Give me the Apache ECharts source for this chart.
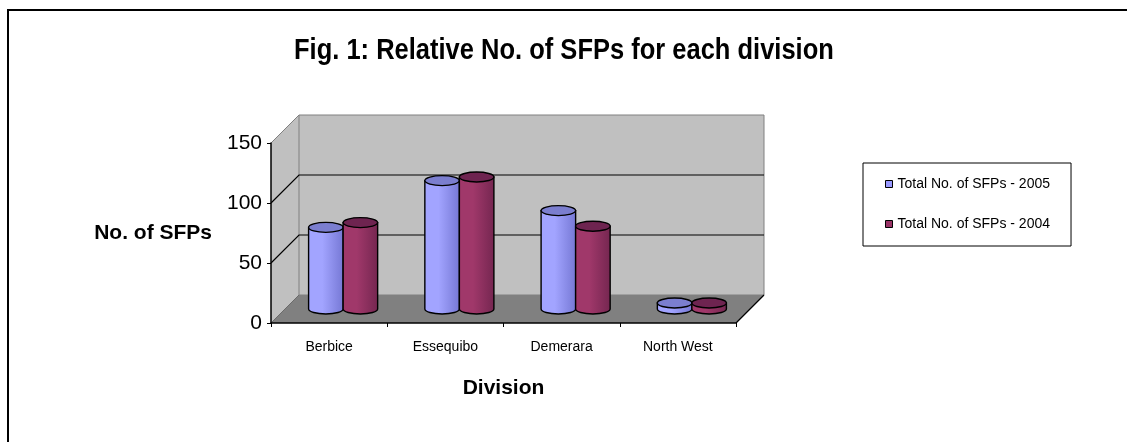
<!DOCTYPE html>
<html>
<head>
<meta charset="utf-8">
<title>Fig. 1</title>
<script src="https://cdn.jsdelivr.net/npm/echarts@6/dist/echarts.min.js"></script>
<style>
  html, body { margin: 0; padding: 0; background: #fff; }
  #main { width: 1127px; height: 442px; }
</style>
</head>
<body>
<div id="main"></div>
<script>
// data
const divisions = ['Berbice', 'Essequibo', 'Demerara', 'North West']
const sfp2005 = [68, 107, 82, 5]
const sfp2004 = [72, 110, 69, 5]
const seriesNames = ['Total No. of SFPs - 2005', 'Total No. of SFPs - 2004']
const yTicks = [0, 50, 100, 150]

const FONT = "'Liberation Sans', Arial, sans-serif"
// depth of the fake 3d box (back wall offset)
const DX = 28
const DY = -28

const chart = echarts.init(document.getElementById('main'))

// walls, floor and gridlines of the 3d box
const renderWalls = (params, api) => {
    const cs = params.coordSys
    const x0 = cs.x, x1 = cs.x + cs.width
    const yT = cs.y, yB = cs.y + cs.height
    const children = [
        {
            type: 'polygon',
            shape: { points: [[x0, yT], [x0 + DX, yT + DY], [x0 + DX, yB + DY], [x0, yB]] },
            style: { fill: '#c0c0c0', stroke: null }
        },
        {
            type: 'rect',
            shape: { x: x0 + DX, y: yT + DY, width: cs.width, height: cs.height },
            style: { fill: '#c0c0c0', stroke: '#808080', lineWidth: 1 }
        },
        {
            type: 'polygon',
            shape: { points: [[x0, yB], [x1, yB], [x1 + DX, yB + DY], [x0 + DX, yB + DY]] },
            style: { fill: '#808080', stroke: null }
        },
        {
            type: 'line',
            shape: { x1: x1, y1: yB, x2: x1 + DX, y2: yB + DY },
            style: { stroke: '#000', lineWidth: 1.2 }
        },
        {
            type: 'line',
            shape: { x1: x0, y1: yT, x2: x0 + DX, y2: yT + DY },
            style: { stroke: '#808080', lineWidth: 1 }
        },
        {
            type: 'line',
            shape: { x1: x0, y1: yB, x2: x0 + DX, y2: yB + DY },
            style: { stroke: '#6a6a6a', lineWidth: 1 }
        }
    ]
    // inner gridlines (not at 0 and 150)
    yTicks.slice(1, -1).forEach(t => {
        const y = api.coord([0, t])[1]
        children.push({
            type: 'polyline',
            shape: { points: [[x0, y], [x0 + DX, y + DY], [x1 + DX, y + DY]] },
            style: { stroke: '#000', lineWidth: 1.2, fill: null }
        })
    })
    return { type: 'group', children: children }
}

// one cylinder per value, drawn half way into the box
const makeCylinder = (slot, side, top, lightCol) => (params, api) => {
    const cat = api.value(0)
    const v = api.value(1)
    const p = api.coord([cat, v])
    const b = api.coord([cat, 0])
    const w = api.size([1, 0])[0] * 0.297
    const rx = w / 2
    const ry = 5
    const cx = p[0] + DX / 2 + (slot - 0.5) * w
    const ty = p[1] + DY / 2
    const by = b[1] + DY / 2
    const body = `M ${cx - rx} ${ty} L ${cx - rx} ${by} A ${rx} ${ry} 0 0 0 ${cx + rx} ${by} L ${cx + rx} ${ty} Z`
    const cap = `M ${cx - rx} ${ty} A ${rx} ${ry} 0 0 1 ${cx + rx} ${ty} A ${rx} ${ry} 0 0 1 ${cx - rx} ${ty} Z`
    return {
        type: 'group',
        children: [
            {
                type: 'path',
                shape: { pathData: body },
                style: {
                    fill: {
                        type: 'linear', x: 0, y: 0, x2: 1, y2: 0,
                        colorStops: [
                            { offset: 0, color: lightCol },
                            { offset: 0.4, color: lightCol },
                            { offset: 1, color: side }
                        ]
                    },
                    stroke: '#000',
                    lineWidth: 1.4
                }
            },
            {
                type: 'path',
                shape: { pathData: cap },
                style: { fill: top, stroke: '#000', lineWidth: 1.4 }
            }
        ]
    }
}

const option = {
    animation: false,
    backgroundColor: '#fff',
    textStyle: { fontFamily: FONT },
    legend: {
        orient: 'vertical',
        left: 863,
        top: 163,
        padding: [14, 21, 15, 22],
        itemGap: 26,
        itemWidth: 7,
        itemHeight: 7,
        icon: 'rect',
        borderColor: '#000',
        borderWidth: 1,
        itemStyle: { borderColor: '#000', borderWidth: 1 },
        textStyle: { fontSize: 14, color: '#000', fontFamily: FONT },
        data: seriesNames
    },
    graphic: [
        {
            type: 'rect',
            z: -10,
            shape: { x: 8, y: 10, width: 1130, height: 440 },
            style: { fill: null, stroke: '#000', lineWidth: 2 }
        },
        {
            // chart title, stretched a little in height like the original
            type: 'text',
            x: 294,
            y: 51,
            scaleX: 1.02,
            scaleY: 1.15,
            style: {
                text: 'Fig. 1: Relative No. of SFPs for each division',
                fill: '#000',
                font: 'bold 25px ' + FONT,
                textAlign: 'left',
                textVerticalAlign: 'middle'
            }
        }
    ],
    grid: {
        left: 271,
        right: 391,
        top: 143,
        bottom: 119
    },
    xAxis: {
        type: 'category',
        data: divisions,
        name: 'Division',
        nameLocation: 'middle',
        nameGap: 55,
        nameTextStyle: { fontSize: 21, fontWeight: 'bold', color: '#000', fontFamily: FONT },
        axisLine: { lineStyle: { color: '#000', width: 1.5 } },
        axisTick: { show: true, length: 4, lineStyle: { color: '#000' } },
        axisLabel: { fontSize: 14, color: '#000', margin: 17, fontFamily: FONT },
        splitLine: { show: false },
        z: 10
    },
    yAxis: {
        type: 'value',
        min: 0,
        max: 150,
        interval: 50,
        name: 'No. of SFPs',
        nameLocation: 'middle',
        nameRotate: 0,
        nameGap: 59,
        nameTextStyle: { fontSize: 21, fontWeight: 'bold', color: '#000', fontFamily: FONT },
        axisLine: { show: true, lineStyle: { color: '#000', width: 1.5 } },
        axisTick: { show: true, length: 4, lineStyle: { color: '#000' } },
        axisLabel: { fontSize: 21, color: '#000', margin: 9, fontFamily: FONT },
        splitLine: { show: false },
        z: 10
    },
    series: [
        {
            type: 'custom',
            name: 'walls',
            silent: true,
            z: 1,
            renderItem: renderWalls,
            data: [[0, 0]]
        },
        {
            type: 'custom',
            name: seriesNames[0],
            z: 3,
            itemStyle: { color: '#9999ff' },
            encode: { x: 0, y: 1 },
            renderItem: makeCylinder(0, '#7577d4', '#7b7ecf', '#a2a4ff'),
            data: sfp2005.map((v, i) => [i, v])
        },
        {
            type: 'custom',
            name: seriesNames[1],
            z: 3,
            itemStyle: { color: '#993366' },
            encode: { x: 0, y: 1 },
            renderItem: makeCylinder(1, '#742650', '#6e2450', '#a0386a'),
            data: sfp2004.map((v, i) => [i, v])
        }
    ]
}

chart.setOption(option)
</script>
</body>
</html>
